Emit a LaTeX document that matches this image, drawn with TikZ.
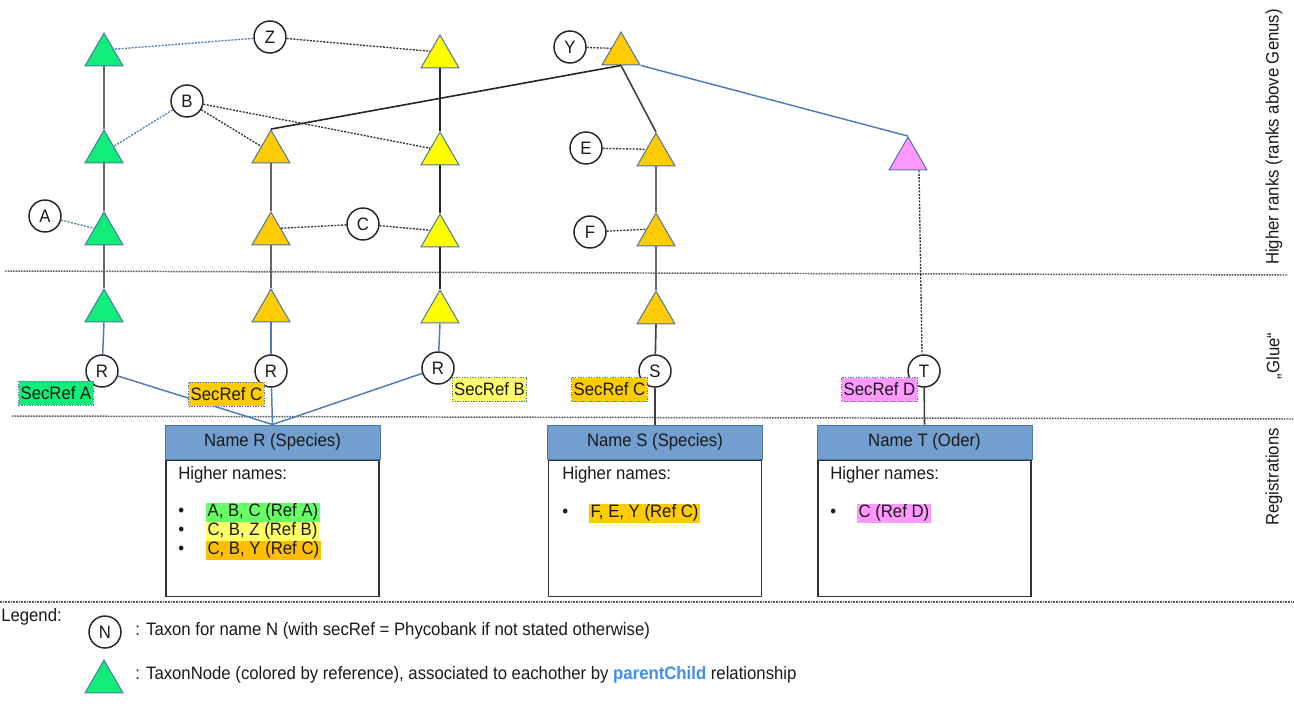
\documentclass[tikz,border=0pt]{standalone}
\usepackage{fontspec}
\setmainfont{Liberation Sans}[FakeStretch=0.93]
\usetikzlibrary{shapes.geometric,calc}
\definecolor{tgreen}{HTML}{11EE77}
\definecolor{tyellow}{HTML}{FFFF00}
\definecolor{torange}{HTML}{FFCC00}
\definecolor{tpink}{HTML}{FF99FF}
\definecolor{tborder}{HTML}{4A76A8}
\definecolor{lblue}{HTML}{4A7EBB}
\definecolor{hdr}{HTML}{729FCF}
\definecolor{hgreen}{HTML}{66FF66}
\definecolor{hyellow}{HTML}{FFFF66}
\definecolor{horange}{HTML}{FFBF00}
\definecolor{pcblue}{HTML}{3D8EF0}
\definecolor{linegray}{HTML}{666666}
\definecolor{txt}{HTML}{1A1A1A}
\tikzset{
  every node/.style={font=\fontsize{13.5pt}{16pt}\selectfont, text=txt},
  tri/.style={regular polygon, regular polygon sides=3, minimum size=32.9pt, inner sep=0pt, draw=tborder, line width=0.75pt},
  circ/.style={circle, draw=black!85, line width=1.1pt, fill=white, minimum size=24pt, inner sep=0pt},
  trunk/.style={draw=linegray, line width=1.5pt},
  blk/.style={draw=black!85, line width=1pt},
  bl/.style={draw=lblue, line width=1.1pt},
  dotb/.style={draw=lblue, dash pattern=on 1.5pt off 1pt, line width=1pt},
  dotk/.style={draw=black!80, dash pattern=on 1.5pt off 1pt, line width=1pt},
  sepline/.style={draw=black!65, dash pattern=on 1.2pt off 0.8pt, line width=1.1pt},
  secref/.style={draw=lblue, dash pattern=on 1pt off 1pt, line width=0.75pt, inner xsep=1.5pt, inner ysep=0pt, minimum height=18pt},
  hdrbox/.style={rectangle, fill=hdr, draw=tborder, line width=0.75pt, minimum width=161.25pt, minimum height=25.5pt, inner sep=0pt},
  bodybox/.style={rectangle, draw=black!80, line width=1.3pt, minimum width=159.75pt, minimum height=102pt, inner sep=0pt, anchor=north},
  lbl/.style={anchor=west, inner sep=0pt},
  hl/.style={anchor=west, inner xsep=1pt, inner ysep=0pt, minimum height=14.25pt},
  side/.style={rotate=90, inner sep=0pt}
}
\begin{document}
\begin{tikzpicture}[x=0.75pt,y=-0.75pt]
\useasboundingbox (0,0) rectangle (1294,711);
\fill[white] (0,0) rectangle (1294,711);

% separators
\draw[sepline] (5,271) -- (1288,275);
\draw[sepline] (12,416) -- (1294,419);
\draw[sepline] (0,602) -- (1294,602);

% side labels
\node[side] (lab1) at (1274,137) {Higher ranks (ranks above Genus)};
\node[side] (lab2) at (1274,356) {„Glue“};
\node[side] (lab3) at (1274,477) {Registrations};

% triangles
\node[tri, fill=tgreen] (G1) at (104,55) {};
\node[tri, fill=tgreen] (G2) at (104,152) {};
\node[tri, fill=tgreen] (G3) at (104,234) {};
\node[tri, fill=tgreen] (G4) at (104,311) {};
\node[tri, fill=torange] (O1) at (271,152) {};
\node[tri, fill=torange] (O2) at (271,234) {};
\node[tri, fill=torange] (O3) at (271,311) {};
\node[tri, fill=tyellow] (Y1) at (440,57) {};
\node[tri, fill=tyellow] (Y2) at (440,154) {};
\node[tri, fill=tyellow] (Y3) at (440,236) {};
\node[tri, fill=tyellow] (Y4) at (440,312) {};
\node[tri, fill=torange] (YT) at (621,54) {};
\node[tri, fill=torange] (ET) at (656,155) {};
\node[tri, fill=torange] (FT) at (656,235) {};
\node[tri, fill=torange] (ST) at (656,313) {};
\node[tri, fill=tpink] (PT) at (908,159) {};

% letter circles
\node[circ] (Z) at (270,37) {Z};
\node[circ] (B) at (187,101) {B};
\node[circ] (A) at (45,216) {A};
\node[circ] (C) at (363,224) {C};
\node[circ] (Yc) at (570,47) {Y};
\node[circ] (E) at (586,148) {E};
\node[circ] (F) at (590,232) {F};
\node[circ] (R1) at (102,371) {R};
\node[circ] (R2) at (271,371) {R};
\node[circ] (R3) at (438,368) {R};
\node[circ] (S) at (655,371) {S};
\node[circ] (T) at (924,371) {T};

% registration boxes
\node[hdrbox] (HR) at (272.5,442) {Name R (Species)};
\node[bodybox] (BR) at (HR.south) {};
\node[hdrbox] (HS) at (655,442) {Name S (Species)};
\node[bodybox] (BS) at (HS.south) {};
\node[hdrbox] (HT) at (924.5,442) {Name T (Oder)};
\node[bodybox] (BT) at (HT.south) {};

% parent-child trunks
\draw[trunk] (G1.south) -- (G2.north);
\draw[trunk] (G2.south) -- (G3.north);
\draw[trunk] (G3.south) -- (G4.north);
\draw[trunk] (O1.south) -- (O2.north);
\draw[trunk] (O2.south) -- (O3.north);
\draw[blk] (Y1.south) -- (Y2.north);
\draw[blk] (Y2.south) -- (Y3.north);
\draw[blk] (Y3.south) -- (Y4.north);
\draw[trunk, line width=1.2pt] (ET.south) -- (FT.north);
\draw[trunk, line width=1.2pt] (FT.south) -- (ST.north);
\draw[blk, line width=1.2pt] (O1.north) -- (YT.south);
\draw[trunk, draw=black!75, line width=1.2pt] (YT.south) -- (ET.north);
\draw[bl] (YT.corner 3) -- (PT.north);

% glue
\draw[bl] (G4.south) -- (R1);
\draw[bl] (O3.south) -- (R2);
\draw[bl] (Y4.south) -- (R3);
\draw[trunk, draw=black!75, line width=1.2pt] (ST.south) -- (S);
\draw[dotk] ($(PT.south)+(11,0)$) -- ($(T.north)+(-2,0)$);
\draw[bl] (R1) -- (HR.north);
\draw[bl] (R2) -- (HR.north);
\draw[bl] (R3) -- (HR.north);
\draw[trunk, draw=black!75, line width=1.2pt] (S) -- (HS.north);
\draw[trunk, draw=black!75, line width=1.2pt] (T) -- (HT.north);

% name to node associations
\draw[dotb] (Z) -- (G1.side 3);
\draw[dotk] (Z) -- (Y1.side 1);
\draw[dotb] (B) -- (G2.side 3);
\draw[dotk] (B) -- (O1.side 1);
\draw[dotk] (B) -- (Y2.side 1);
\draw[dotb] (A) -- (G3.side 1);
\draw[dotk] (C) -- (O2.side 3);
\draw[dotk] (C) -- (Y3.side 1);
\draw[dotk] (Yc) -- (YT.side 1);
\draw[dotk] (E) -- (ET.side 1);
\draw[dotk] (F) -- (FT.side 1);

% secRef labels
\node[secref, fill=tgreen] (sa) at (56,393) {SecRef A};
\node[secref, fill=torange] (sc1) at (226.5,394) {SecRef C};
\node[secref, fill=hyellow] (sb) at (489.5,389.5) {SecRef B};
\node[secref, fill=torange] (sc2) at (609.5,389.5) {SecRef C};
\node[secref, fill=tpink] (sd) at (879.5,389.5) {SecRef D};

% box contents R
\node[lbl] (rh) at (178,475) {Higher names:};
\node[lbl] (rb1) at (178,512) {•};
\node[lbl] (rb2) at (178,531) {•};
\node[lbl] (rb3) at (178,550) {•};
\node[hl, fill=hgreen] (ri1) at (206,512) {A, B, C (Ref A)};
\node[hl, fill=hyellow] (ri2) at (206,531) {C, B, Z (Ref B)};
\node[hl, fill=horange] (ri3) at (206,550) {C, B, Y (Ref C)};
% box contents S
\node[lbl] (sh) at (562,475) {Higher names:};
\node[lbl] (sb1) at (562,513) {•};
\node[hl, fill=torange] (si1) at (589,513) {F, E, Y (Ref C)};
% box contents T
\node[lbl] (th) at (830,475) {Higher names:};
\node[lbl] (tb1) at (830,513) {•};
\node[hl, fill=tpink] (ti1) at (857,513) {C (Ref D)};

% legend
\node[lbl] (leg) at (1,617) {Legend:};
\node[circ] (N) at (105,632) {N};
\node[lbl] (legt1) at (135,631) {: Taxon for name N (with secRef = Phycobank if not stated otherwise)};
\node[tri, fill=tgreen] (LT) at (104,682) {};
\node[lbl] (legt2) at (135,675) {: TaxonNode (colored by reference), associated to eachother by \textcolor{pcblue}{\bfseries parentChild} relationship};
\end{tikzpicture}
\end{document}
